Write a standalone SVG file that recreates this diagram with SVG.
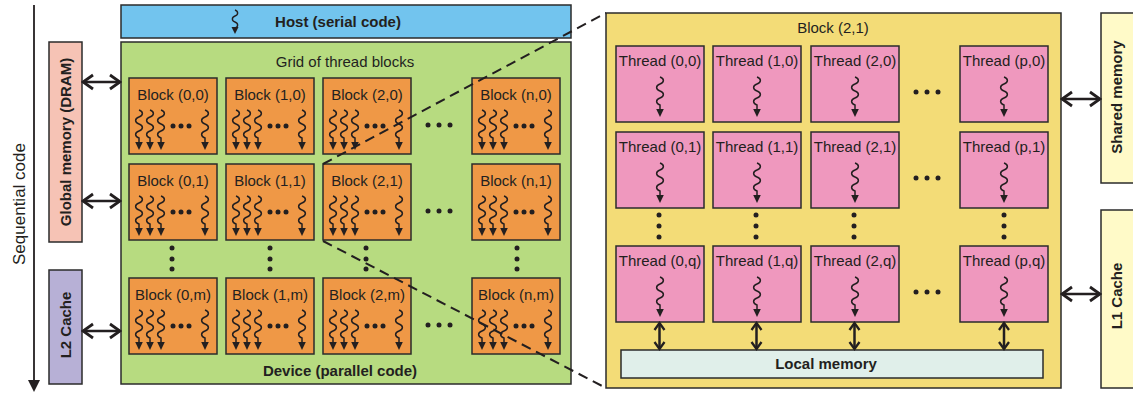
<svg xmlns="http://www.w3.org/2000/svg" xmlns:xlink="http://www.w3.org/1999/xlink" width="1133" height="393" viewBox="0 0 1133 393">
<style>
text{font-family:"Liberation Sans",Arial,sans-serif;fill:#231F20;font-size:15px}
.b{font-weight:bold}
.m{text-anchor:middle}
.box{stroke:#2B2B2B;stroke-width:1.5}
.blk{fill:#EF9846;stroke:#2B2B2B;stroke-width:1.5}
.thr{fill:#EF98BE;stroke:#2B2B2B;stroke-width:1.5}
.dot{fill:#231F20}
.dbl{stroke:#231F20;stroke-width:2.5;fill:none}
.dash{stroke:#231F20;stroke-width:2;stroke-dasharray:10 6;fill:none}
</style>
<defs>
<marker id="chev" markerUnits="userSpaceOnUse" viewBox="-12 -9 14 18" refX="0" refY="0" markerWidth="14" markerHeight="18" orient="auto-start-reverse">
<path d="M-10,-7 L0,0 L-10,7" fill="none" stroke="#231F20" stroke-width="2.8"/>
</marker>
<marker id="chevs" markerUnits="userSpaceOnUse" viewBox="-10 -7 12 14" refX="0" refY="0" markerWidth="12" markerHeight="14" orient="auto-start-reverse">
<path d="M-7,-5 L0,0 L-7,5" fill="none" stroke="#231F20" stroke-width="2.3"/>
</marker>
<g id="sq">
<path d="M0,0 c4.5,1.5 4.5,5.5 0,7 c-4.5,1.5 -4.5,5.5 0,7 c4.5,1.5 4.5,5.5 0,7 c-4.5,1.5 -4.5,5.5 0,7 L0,33" fill="none" stroke="#231F20" stroke-width="1.5"/>
<polygon points="-3.8,32 3.8,32 0,40" fill="#231F20"/>
</g>
<g id="sqs">
<path d="M0,0 c3.5,1.2 3.5,4.8 0,6 c-3.5,1.2 -3.5,4.8 0,6 c3.5,1.2 3.5,4.8 0,6 L0,18" fill="none" stroke="#231F20" stroke-width="1.4"/>
<polygon points="-3.5,17 3.5,17 0,24" fill="#231F20"/>
</g>
<g id="thr3">
<use href="#sq" x="10" y="32"/>
<use href="#sq" x="21" y="32"/>
<use href="#sq" x="32" y="32"/>
<use href="#sq" x="76" y="32"/>
<circle class="dot" cx="44" cy="48" r="2.5"/>
<circle class="dot" cx="52" cy="48" r="2.5"/>
<circle class="dot" cx="60" cy="48" r="2.5"/>
</g>
</defs>
<rect width="1133" height="393" fill="#FFFFFF"/>

<g id="sequential">
<line x1="34" y1="5" x2="34" y2="381" stroke="#231F20" stroke-width="1.8"/>
<polygon points="28,380 40,380 34,392" fill="#231F20"/>
<text class="m" style="font-size:17px" transform="translate(25,204) rotate(-90)">Sequential code</text>
</g>

<g id="global-memory">
<rect class="box" x="49" y="42" width="33" height="200" fill="#F6C3B5"/>
<text class="b m" transform="translate(71,142) rotate(-90)">Global memory (DRAM)</text>
</g>
<g id="l2-cache">
<rect class="box" x="49" y="270" width="33" height="114" fill="#B7B0D6"/>
<text class="b m" transform="translate(71,325) rotate(-90)">L2 Cache</text>
</g>

<g id="host">
<rect class="box" x="121" y="5" width="450" height="33" fill="#72C4EE"/>
<use href="#sqs" x="235" y="10"/>
<text class="b m" x="338" y="27">Host (serial code)</text>
</g>

<g id="device">
<rect class="box" x="121" y="42" width="450" height="342" fill="#B7DB80"/>
<text class="m" x="345" y="67">Grid of thread blocks</text>
<text class="b m" x="340" y="376">Device (parallel code)</text>
<circle class="dot" cx="428" cy="125" r="2.5"/><circle class="dot" cx="439" cy="125" r="2.5"/><circle class="dot" cx="450" cy="125" r="2.5"/>
<circle class="dot" cx="428" cy="211" r="2.5"/><circle class="dot" cx="439" cy="211" r="2.5"/><circle class="dot" cx="450" cy="211" r="2.5"/>
<circle class="dot" cx="428" cy="325" r="2.5"/><circle class="dot" cx="439" cy="325" r="2.5"/><circle class="dot" cx="450" cy="325" r="2.5"/>
<circle class="dot" cx="172" cy="248" r="2.5"/><circle class="dot" cx="172" cy="259" r="2.5"/><circle class="dot" cx="172" cy="269" r="2.5"/>
<circle class="dot" cx="270" cy="248" r="2.5"/><circle class="dot" cx="270" cy="259" r="2.5"/><circle class="dot" cx="270" cy="269" r="2.5"/>
<circle class="dot" cx="366" cy="248" r="2.5"/><circle class="dot" cx="366" cy="259" r="2.5"/><circle class="dot" cx="366" cy="269" r="2.5"/>
<circle class="dot" cx="517" cy="248" r="2.5"/><circle class="dot" cx="517" cy="259" r="2.5"/><circle class="dot" cx="517" cy="269" r="2.5"/>
</g>

<g id="block-0-0" transform="translate(129,78)"><rect class="blk" width="88" height="76"/><text class="m" x="44" y="22">Block (0,0)</text><use href="#thr3"/></g>
<g id="block-1-0" transform="translate(226,78)"><rect class="blk" width="88" height="76"/><text class="m" x="44" y="22">Block (1,0)</text><use href="#thr3"/></g>
<g id="block-2-0" transform="translate(323,78)"><rect class="blk" width="88" height="76"/><text class="m" x="44" y="22">Block (2,0)</text><use href="#thr3"/></g>
<g id="block-n-0" transform="translate(472,78)"><rect class="blk" width="88" height="76"/><text class="m" x="44" y="22">Block (n,0)</text><use href="#thr3"/></g>
<g id="block-0-1" transform="translate(129,164)"><rect class="blk" width="88" height="76"/><text class="m" x="44" y="22">Block (0,1)</text><use href="#thr3"/></g>
<g id="block-1-1" transform="translate(226,164)"><rect class="blk" width="88" height="76"/><text class="m" x="44" y="22">Block (1,1)</text><use href="#thr3"/></g>
<g id="block-2-1" transform="translate(323,164)"><rect class="blk" width="88" height="76"/><text class="m" x="44" y="22">Block (2,1)</text><use href="#thr3"/></g>
<g id="block-n-1" transform="translate(472,164)"><rect class="blk" width="88" height="76"/><text class="m" x="44" y="22">Block (n,1)</text><use href="#thr3"/></g>
<g id="block-0-m" transform="translate(129,278)"><rect class="blk" width="88" height="76"/><text class="m" x="44" y="22">Block (0,m)</text><use href="#thr3"/></g>
<g id="block-1-m" transform="translate(226,278)"><rect class="blk" width="88" height="76"/><text class="m" x="44" y="22">Block (1,m)</text><use href="#thr3"/></g>
<g id="block-2-m" transform="translate(323,278)"><rect class="blk" width="88" height="76"/><text class="m" x="44" y="22">Block (2,m)</text><use href="#thr3"/></g>
<g id="block-n-m" transform="translate(472,278)"><rect class="blk" width="88" height="76"/><text class="m" x="44" y="22">Block (n,m)</text><use href="#thr3"/></g>

<g id="block-detail">
<rect class="box" x="606" y="13" width="455" height="375" fill="#F3DC77"/>
<text class="m" x="833" y="33">Block (2,1)</text>
<circle class="dot" cx="916" cy="92" r="2.5"/><circle class="dot" cx="927" cy="92" r="2.5"/><circle class="dot" cx="938" cy="92" r="2.5"/>
<circle class="dot" cx="916" cy="178" r="2.5"/><circle class="dot" cx="927" cy="178" r="2.5"/><circle class="dot" cx="938" cy="178" r="2.5"/>
<circle class="dot" cx="916" cy="292" r="2.5"/><circle class="dot" cx="927" cy="292" r="2.5"/><circle class="dot" cx="938" cy="292" r="2.5"/>
<circle class="dot" cx="659" cy="215" r="2.5"/><circle class="dot" cx="659" cy="226" r="2.5"/><circle class="dot" cx="659" cy="237" r="2.5"/>
<circle class="dot" cx="756" cy="215" r="2.5"/><circle class="dot" cx="756" cy="226" r="2.5"/><circle class="dot" cx="756" cy="237" r="2.5"/>
<circle class="dot" cx="854" cy="215" r="2.5"/><circle class="dot" cx="854" cy="226" r="2.5"/><circle class="dot" cx="854" cy="237" r="2.5"/>
<circle class="dot" cx="1004" cy="215" r="2.5"/><circle class="dot" cx="1004" cy="226" r="2.5"/><circle class="dot" cx="1004" cy="237" r="2.5"/>
</g>

<g id="thread-0-0" transform="translate(616,46)"><rect class="thr" width="88" height="76"/><text class="m" x="44" y="20">Thread (0,0)</text><use href="#sq" x="44" y="31"/></g>
<g id="thread-1-0" transform="translate(713,46)"><rect class="thr" width="88" height="76"/><text class="m" x="44" y="20">Thread (1,0)</text><use href="#sq" x="44" y="31"/></g>
<g id="thread-2-0" transform="translate(811,46)"><rect class="thr" width="88" height="76"/><text class="m" x="44" y="20">Thread (2,0)</text><use href="#sq" x="44" y="31"/></g>
<g id="thread-p-0" transform="translate(960,46)"><rect class="thr" width="88" height="76"/><text class="m" x="44" y="20">Thread (p,0)</text><use href="#sq" x="44" y="31"/></g>
<g id="thread-0-1" transform="translate(616,132)"><rect class="thr" width="88" height="76"/><text class="m" x="44" y="20">Thread (0,1)</text><use href="#sq" x="44" y="31"/></g>
<g id="thread-1-1" transform="translate(713,132)"><rect class="thr" width="88" height="76"/><text class="m" x="44" y="20">Thread (1,1)</text><use href="#sq" x="44" y="31"/></g>
<g id="thread-2-1" transform="translate(811,132)"><rect class="thr" width="88" height="76"/><text class="m" x="44" y="20">Thread (2,1)</text><use href="#sq" x="44" y="31"/></g>
<g id="thread-p-1" transform="translate(960,132)"><rect class="thr" width="88" height="76"/><text class="m" x="44" y="20">Thread (p,1)</text><use href="#sq" x="44" y="31"/></g>
<g id="thread-0-q" transform="translate(616,246)"><rect class="thr" width="88" height="76"/><text class="m" x="44" y="20">Thread (0,q)</text><use href="#sq" x="44" y="31"/></g>
<g id="thread-1-q" transform="translate(713,246)"><rect class="thr" width="88" height="76"/><text class="m" x="44" y="20">Thread (1,q)</text><use href="#sq" x="44" y="31"/></g>
<g id="thread-2-q" transform="translate(811,246)"><rect class="thr" width="88" height="76"/><text class="m" x="44" y="20">Thread (2,q)</text><use href="#sq" x="44" y="31"/></g>
<g id="thread-p-q" transform="translate(960,246)"><rect class="thr" width="88" height="76"/><text class="m" x="44" y="20">Thread (p,q)</text><use href="#sq" x="44" y="31"/></g>

<g id="local-memory">
<rect class="box" x="621" y="350" width="422" height="28" fill="#E0EFEA"/>
<text class="b m" x="826" y="369">Local memory</text>
</g>

<g id="shared-memory">
<rect class="box" x="1101" y="13" width="40" height="170" fill="#FFFAC8"/>
<text class="b m" transform="translate(1122,97) rotate(-90)">Shared memory</text>
</g>
<g id="l1-cache">
<rect class="box" x="1101" y="210" width="40" height="178" fill="#FFFAC8"/>
<text class="b m" transform="translate(1122,296) rotate(-90)">L1 Cache</text>
</g>

<g id="connectors">
<line class="dbl" x1="83" y1="82" x2="120" y2="82" marker-start="url(#chev)" marker-end="url(#chev)"/>
<line class="dbl" x1="83" y1="201" x2="120" y2="201" marker-start="url(#chev)" marker-end="url(#chev)"/>
<line class="dbl" x1="83" y1="331" x2="120" y2="331" marker-start="url(#chev)" marker-end="url(#chev)"/>
<line class="dbl" x1="1062" y1="99" x2="1100" y2="99" marker-start="url(#chev)" marker-end="url(#chev)"/>
<line class="dbl" x1="1062" y1="294" x2="1100" y2="294" marker-start="url(#chev)" marker-end="url(#chev)"/>
<line class="dbl" stroke-width="2" x1="659.5" y1="323" x2="659.5" y2="349" marker-start="url(#chevs)" marker-end="url(#chevs)"/>
<line class="dbl" stroke-width="2" x1="756.5" y1="323" x2="756.5" y2="349" marker-start="url(#chevs)" marker-end="url(#chevs)"/>
<line class="dbl" stroke-width="2" x1="854.5" y1="323" x2="854.5" y2="349" marker-start="url(#chevs)" marker-end="url(#chevs)"/>
<line class="dbl" stroke-width="2" x1="1004" y1="323" x2="1004" y2="349" marker-start="url(#chevs)" marker-end="url(#chevs)"/>
<line class="dash" x1="323" y1="164" x2="606" y2="13"/>
<line class="dash" x1="323" y1="241" x2="606" y2="388"/>
</g>
</svg>
